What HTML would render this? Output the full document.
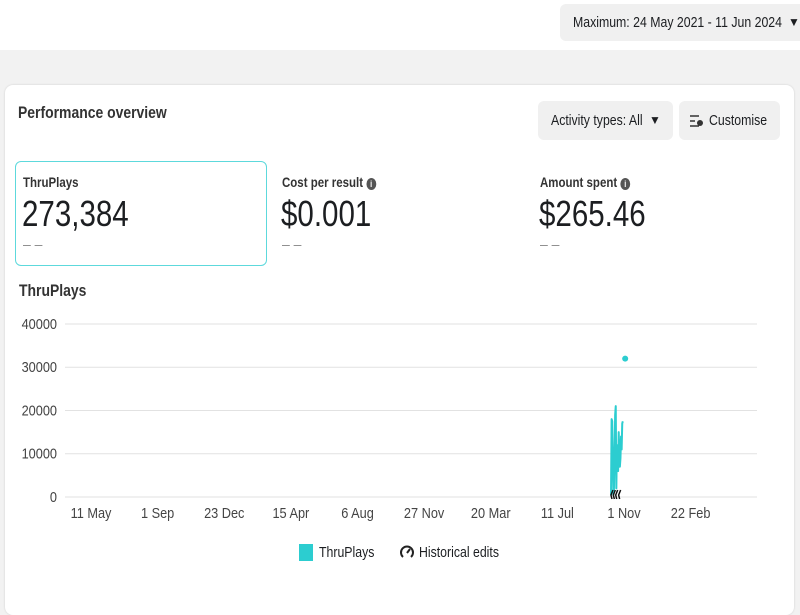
<!DOCTYPE html>
<html><head><meta charset="utf-8">
<style>
body{margin:0;width:800px;height:600px;overflow:hidden;background:#f2f2f2;font-family:"Liberation Sans",sans-serif;color:#1c1e21;position:relative}
.a{position:absolute;white-space:nowrap}
.c{display:inline-block;transform:scaleX(.82);transform-origin:left center}
.btn{position:absolute;background:#f0f0f0;border-radius:6px}
</style></head><body>
<div class="a" style="left:0;top:0;width:800px;height:50px;background:#fff"></div>
<div class="btn" style="left:560px;top:4px;width:245px;height:37px;background:#f0f0f0">
 <span class="a" style="left:13px;top:10px;font-size:15px"><span class="c">Maximum: 24 May 2021 - 11 Jun 2024</span></span>
 <span class="a" style="left:228px;top:11px;font-size:12px">▼</span>
</div>
<div class="a" style="left:5px;top:85px;width:789px;height:530px;background:#fff;border-radius:8px;box-shadow:0 0 2px rgba(0,0,0,.15)"></div>
<div class="a" style="left:18px;top:103px;font-size:17px;font-weight:bold;color:#333"><span class="c">Performance overview</span></div>
<div class="btn" style="left:538px;top:101px;width:135px;height:39px">
 <span class="a" style="left:13px;top:11px;font-size:15px"><span class="c">Activity types: All</span></span>
 <span class="a" style="left:111px;top:12px;font-size:12px">▼</span>
</div>
<div class="btn" style="left:679px;top:101px;width:101px;height:39px">
 <svg class="a" style="left:10px;top:13px" width="16" height="14"><path d="M1 2h9M1 7h5M1 12h9" stroke="#333" stroke-width="1.5"/><circle cx="11" cy="9" r="3" fill="#333"/></svg>
 <span class="a" style="left:30px;top:11px;font-size:15px"><span class="c">Customise</span></span>
</div>
<div class="a" style="left:15px;top:161px;width:250px;height:103px;border:1px solid #5dd9dc;border-radius:6px"></div>
<div class="a" style="left:23px;top:174px;font-size:14px;font-weight:bold;color:#333"><span class="c">ThruPlays</span></div>
<div class="a" style="left:22px;top:193px;font-size:36px"><span class="c">273,384</span></div>
<div class="a" style="left:23px;top:236px;font-size:14px;color:#888">– –</div>
<div class="a" style="left:282px;top:174px;font-size:14px;font-weight:bold;color:#333"><span class="c">Cost per result <span style="display:inline-block;width:12px;height:12px;border-radius:6px;background:#555;color:#fff;font-size:9px;text-align:center;line-height:12px">i</span></span></div>
<div class="a" style="left:281px;top:193px;font-size:36px"><span class="c">$0.001</span></div>
<div class="a" style="left:282px;top:236px;font-size:14px;color:#888">– –</div>
<div class="a" style="left:540px;top:174px;font-size:14px;font-weight:bold;color:#333"><span class="c">Amount spent <span style="display:inline-block;width:12px;height:12px;border-radius:6px;background:#555;color:#fff;font-size:9px;text-align:center;line-height:12px">i</span></span></div>
<div class="a" style="left:539px;top:193px;font-size:36px"><span class="c">$265.46</span></div>
<div class="a" style="left:540px;top:236px;font-size:14px;color:#888">– –</div>
<div class="a" style="left:19px;top:281px;font-size:17px;font-weight:bold;color:#333"><span class="c">ThruPlays</span></div>
<svg id="chart" class="a" style="left:0;top:300px" width="800" height="230"></svg>
<div class="a" style="left:299px;top:543px;font-size:15px"><span style="display:inline-block;width:14px;height:17px;background:#2ccdd0;vertical-align:middle;margin-right:6px"></span><span class="c" style="vertical-align:middle">ThruPlays</span></div>
<div class="a" style="left:399px;top:543px;font-size:15px"><svg width="16" height="16" style="vertical-align:middle;margin-right:4px"><path d="M4 13 A6 6 0 1 1 12 13" fill="none" stroke="#222" stroke-width="2"/><path d="M8 9 L11 5" stroke="#222" stroke-width="2"/></svg><span class="c" style="vertical-align:middle">Historical edits</span></div>
<script>
const yTicks=[0,10000,20000,30000,40000];
const xTickLabels=["11 May","1 Sep","23 Dec","15 Apr","6 Aug","27 Nov","20 Mar","11 Jul","1 Nov","22 Feb"];
const xTickDays=[0,113,226,339,452,565,678,791,904,1017];
const lineDays=[882,883,884,886,887,889,890,891,892,894,895,897,898,899,900,901,902];
const lineValues=[500,18000,17500,500,2000,19000,21000,2000,12000,6000,15000,7000,9000,14000,11000,17000,17500];
const dotDays=[906];
const dotValues=[32000];
const editDays=[887,891,895,900];
const NS="http://www.w3.org/2000/svg",svg=document.getElementById('chart');
const x=d=>91+d*(533/904), y=v=>197-v*(173/40000);
function mk(t,a){const e=document.createElementNS(NS,t);for(const k in a)e.setAttribute(k,a[k]);svg.appendChild(e);return e;}
yTicks.forEach(v=>{const g=mk('line',{x1:65,x2:757,y1:y(v),y2:y(v),stroke:'#e2e2e2'});

const t=mk('text',{x:57/0.85,y:y(v)+5,'text-anchor':'end','font-size':15,fill:'#444',transform:'scale(.85 1)'});t.textContent=v;
});
xTickLabels.forEach((l,i)=>{const cx=x(xTickDays[i]);const t=mk('text',{x:cx/0.85,y:218,'text-anchor':'middle','font-size':15,fill:'#444',transform:'scale(.85 1)'});t.textContent=l;
});
const p=mk('polyline',{points:lineDays.map((d,i)=>x(d)+','+y(lineValues[i])).join(' '),fill:'none',stroke:'#2ccdd0','stroke-width':2,'stroke-linejoin':'round'});

dotDays.forEach((d,i)=>{const c=mk('circle',{cx:x(d),cy:y(dotValues[i]),r:3,fill:'#2ccdd0'});
});
editDays.forEach(d=>{const c=mk('path',{d:`M${x(d)-1} ${y(0)-7} l-2 5 l1 4`,fill:'none',stroke:'#111','stroke-width':1.5});
});
</script>
</body></html>
